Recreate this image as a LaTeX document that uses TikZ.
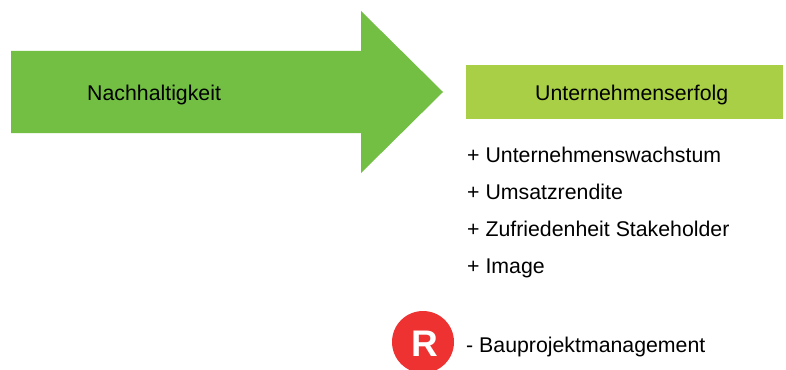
\documentclass[tikz,border=0pt]{standalone}
\usepackage{fontspec}
\setmainfont{Liberation Sans}
\definecolor{arrowgreen}{RGB}{114,191,68}
\definecolor{boxgreen}{RGB}{168,207,69}
\definecolor{logored}{RGB}{238,50,50}
\begin{document}
\begin{tikzpicture}[x=1pt,y=-1pt,
  txt/.style={inner sep=0pt,anchor=base west,font=\fontsize{21.3}{25}\selectfont,text=black},
  listitem/.style={txt}]
\useasboundingbox (0,0) rectangle (786,369);
% big arrow
\fill[arrowgreen] (11,51) -- (361,51) -- (361,11) -- (443,92) -- (361,173) -- (361,133) -- (11,133) -- cycle;
\node[txt] (nach) at (87,100) {Nachhaltigkeit};
% box
\fill[boxgreen] (466,65) rectangle (783,119);
\node[txt] (erfolg) at (535,100) {Unternehmenserfolg};
% list
\node[listitem] (l1) at (467,162) {+ Unternehmenswachstum};
\node[listitem] (l2) at (467,199) {+ Umsatzrendite};
\node[listitem] (l3) at (467,236) {+ Zufriedenheit Stakeholder};
\node[listitem] (l4) at (467,273) {+ Image};
% logo
\node[circle,fill=logored,minimum size=62pt,inner sep=0pt] (logo) at (423,342) {};
\node[inner sep=0pt,text=white,font=\fontsize{37}{40}\selectfont\bfseries] (R) at (424.5,344) {R};
\node[txt] (bau) at (466,352) {- Bauprojektmanagement};
\end{tikzpicture}
\end{document}
